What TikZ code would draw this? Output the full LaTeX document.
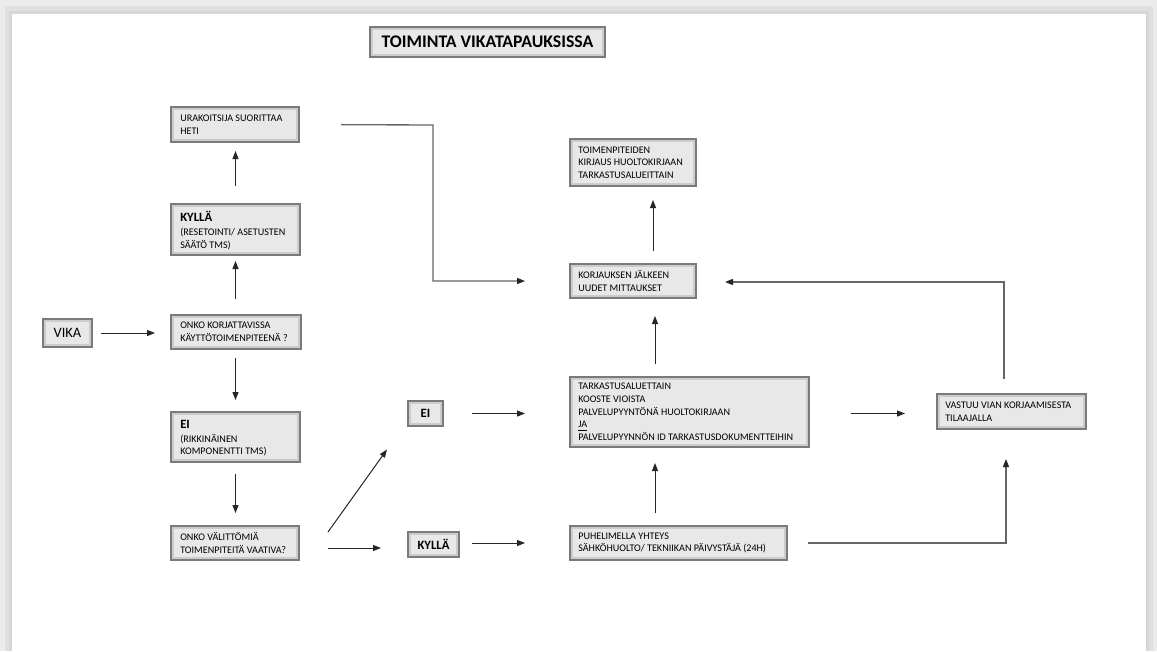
\documentclass[tikz,border=0pt]{standalone}
\usepackage{fontspec}
\setmainfont{Carlito}
\usetikzlibrary{arrows.meta,calc}
\tikzset{
  box/.style={draw=black!52, line width=1.5pt, fill=black!9, inner sep=0pt, anchor=center,
    path picture={\draw[black!20, line width=2pt]
      ([shift={(1.6pt,1.6pt)}]path picture bounding box.south west) rectangle
      ([shift={(-1.6pt,-1.6pt)}]path picture bounding box.north east);}},
  txt/.style={anchor=west, align=left, inner sep=0pt, font=\fontsize{7.6}{9.5}\selectfont},
  lbl/.style={inner sep=0pt},
  arr/.style={-{Triangle[length=6pt,width=4.5pt]}, line width=0.75pt, black!85},
  garr/.style={-{Triangle[length=6pt,width=4.5pt,color=black!85]}, line width=1pt, black!60},
}
\newcommand{\hd}[1]{{\fontsize{9.5}{11}\selectfont\bfseries #1}\\[1pt]}
\newcommand{\bx}[5]{% name, cx, cy, w, h
  \node[box, minimum width=#4*0.75pt, minimum height=#5*0.75pt] (#1) at (#2,#3) {};}
\begin{document}
\begin{tikzpicture}[x=0.75pt,y=-0.75pt]
\useasboundingbox (0,0) rectangle (1157,651);
% frame
\fill[black!8] (0,0) rectangle (1157,651);
\fill[black!12] (5,6) rectangle (1153,651);
\fill[black!16] (9,11) rectangle (1149,651);
\fill[white] (12,14) rectangle (1146,651);

% boxes
\bx{title}{487.5}{42}{235}{30}
\bx{urak}{235}{124.5}{128}{35}
\bx{kylla1}{235.5}{229.5}{129}{51}
\bx{onko1}{236}{332}{130}{34}
\bx{vika}{67.5}{333}{49}{28}
\bx{ei1}{235.5}{437}{129}{50}
\bx{onko2}{235}{543}{128}{34}
\bx{ei2}{425.5}{413.5}{35}{25}
\bx{kylla2}{433.5}{544.5}{51}{25}
\bx{tark}{689.5}{412}{239}{70}
\bx{puhe}{678.5}{543}{217}{34}
\bx{korj}{633}{281}{126}{34}
\bx{toim}{633}{162.5}{126}{47}
\bx{vastuu}{1011.5}{411.5}{149}{35}

% texts
\node[lbl, font=\fontsize{13.3}{15}\selectfont\bfseries] (title-t) at (title) {TOIMINTA VIKATAPAUKSISSA};
\node[txt] (urak-t) at ($(urak.west)+(10,0)$) {URAKOITSIJA SUORITTAA\\HETI};
\node[txt] (kylla1-t) at ($(kylla1.west)+(10,1)$) {\hd{KYLLÄ}(RESETOINTI/ ASETUSTEN\\SÄÄTÖ TMS)};
\node[txt] (onko1-t) at ($(onko1.west)+(10,0)$) {ONKO KORJATTAVISSA\\KÄYTTÖTOIMENPITEENÄ ?};
\node[lbl, font=\fontsize{10.8}{12}\selectfont] (vika-t) at (vika) {VIKA};
\node[txt] (ei1-t) at ($(ei1.west)+(10,1)$) {\hd{EI}(RIKKINÄINEN\\KOMPONENTTI TMS)};
\node[txt] (onko2-t) at ($(onko2.west)+(10,0)$) {ONKO VÄLITTÖMIÄ\\TOIMENPITEITÄ VAATIVA?};
\node[lbl, font=\fontsize{9.5}{11}\selectfont\bfseries] (ei2-t) at (ei2) {EI};
\node[lbl, font=\fontsize{9.5}{11}\selectfont\bfseries] (kylla2-t) at (kylla2) {KYLLÄ};
\node[txt] (tark-t) at ($(tark.west)+(9,0)$) {TARKASTUSALUETTAIN\\KOOSTE VIOISTA\\PALVELUPYYNTÖNÄ HUOLTOKIRJAAN\\\underline{JA}\\PALVELUPYYNNÖN ID TARKASTUSDOKUMENTTEIHIN};
\node[txt] (puhe-t) at ($(puhe.west)+(9,0)$) {PUHELIMELLA YHTEYS\\SÄHKÖHUOLTO/ TEKNIIKAN PÄIVYSTÄJÄ (24H)};
\node[txt] (korj-t) at ($(korj.west)+(9,0)$) {KORJAUKSEN JÄLKEEN\\UUDET MITTAUKSET};
\node[txt] (toim-t) at ($(toim.west)+(9,0)$) {TOIMENPITEIDEN\\KIRJAUS HUOLTOKIRJAAN\\TARKASTUSALUEITTAIN};
\node[txt] (vastuu-t) at ($(vastuu.west)+(9,0)$) {VASTUU VIAN KORJAAMISESTA\\TILAAJALLA};

% connectors
\draw[arr, shorten <=8*0.75pt, shorten >=15*0.75pt] (vika.east) -- (onko1.west |- vika.east);
\draw[arr, shorten <=15*0.75pt, shorten >=5*0.75pt] (onko1.north -| kylla1.south) -- (kylla1.south);
\draw[arr, shorten <=17*0.75pt, shorten >=8*0.75pt] (kylla1.north) -- (kylla1.north |- urak.south);
\draw[arr, shorten <=8*0.75pt, shorten >=11*0.75pt] (onko1.south -| ei1.north) -- (ei1.north);
\draw[arr, shorten <=11*0.75pt, shorten >=12*0.75pt] (ei1.south) -- (ei1.south |- onko2.north);
\coordinate (d1) at ($(onko2.east)+(28,-11)$);
\coordinate (d2) at ($(ei2.south west)+(-20,22.5)$);
\draw[arr] (d1) -- (d2);
\draw[arr, shorten <=28*0.75pt, shorten >=26*0.75pt] ($(onko2.east)+(0,5)$) -- ($(kylla2.west)+(0,3.5)$);
\draw[arr, shorten <=28*0.75pt, shorten >=44*0.75pt] (ei2.east) -- (ei2.east -| tark.west);
\draw[arr, shorten <=12*0.75pt, shorten >=44*0.75pt] ($(kylla2.east)+(0,-1.5)$) -- (puhe.west);
\draw[arr, shorten <=12*0.75pt, shorten >=15*0.75pt] (puhe.north -| 655,0) -- (tark.south -| 655,0);
\draw[arr, shorten <=12*0.75pt, shorten >=17*0.75pt] (tark.north -| 655,0) -- (korj.south -| 655,0);
\draw[arr, shorten <=12*0.75pt, shorten >=13*0.75pt] (korj.north -| 653,0) -- (toim.south -| 653,0);
\draw[arr, shorten <=41*0.75pt, shorten >=31*0.75pt] (tark.east |- ei2.east) -- (vastuu.west |- ei2.east);
\draw[garr, shorten <=41*0.75pt] (urak.east) -- (433,125) -- (433,281) -- ($(korj.west)+(-44,0)$);
\draw[garr, shorten <=14*0.75pt, shorten >=28*0.75pt] (vastuu.north -| 1004,0) -- (1004,282) -- (korj.east |- 0,282);
\draw[garr, shorten <=20*0.75pt, shorten >=29*0.75pt] (puhe.east) -- (1006,543) -- (vastuu.south -| 1006,0);
\end{tikzpicture}
\end{document}
